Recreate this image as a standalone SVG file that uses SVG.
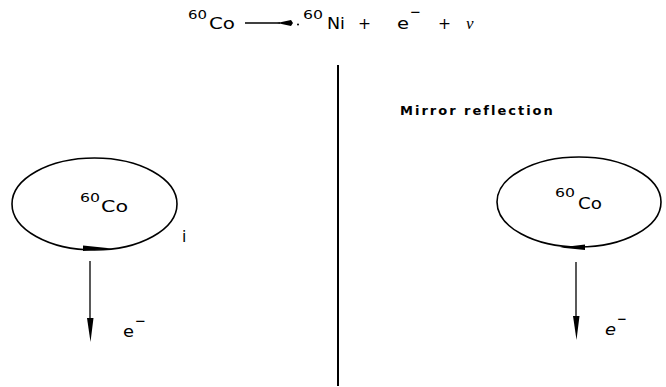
<svg xmlns="http://www.w3.org/2000/svg" width="666" height="387" viewBox="0 0 666 387">
<style>
text{font-family:"DejaVu Sans","Liberation Sans",sans-serif;fill:#000}
.m{font-size:15.5px}
.s{font-size:12px}
.loop{fill:none;stroke:#000;stroke-width:1.6}
.ln{stroke:#000;stroke-width:1.3;fill:none}
</style>
<rect width="666" height="387" fill="#fff"/>
<g id="equation">
<text class="s" x="188" y="19" textLength="19" lengthAdjust="spacingAndGlyphs">60</text>
<text class="m" x="209" y="29" textLength="26" lengthAdjust="spacingAndGlyphs">Co</text>
<text class="s" x="303" y="19" textLength="20" lengthAdjust="spacingAndGlyphs">60</text>
<text class="m" x="327" y="29" textLength="18" lengthAdjust="spacingAndGlyphs">Ni</text>
<text class="m" x="358" y="29">+</text>
<text class="m" x="397" y="29" textLength="12" lengthAdjust="spacingAndGlyphs">e</text>
<text class="m" x="410" y="17" textLength="11" lengthAdjust="spacingAndGlyphs">−</text>
<text class="m" x="438" y="29">+</text>
<text x="466" y="29" style="font-family:'Liberation Serif',serif;font-style:italic;font-size:17px">ν</text>
</g>
<g id="mirror">
<line x1="338" y1="65" x2="338" y2="386" stroke="#000" stroke-width="2"/>
<text x="400" y="115" style="font-size:13px;font-weight:bold;letter-spacing:2px">Mirror reflection</text>
</g>
<g id="left-nucleus">
<ellipse class="loop" cx="94.5" cy="204" rx="82.5" ry="46"/>
<text class="s" x="80" y="202" textLength="20" lengthAdjust="spacingAndGlyphs">60</text>
<text class="m" x="101" y="212" textLength="27" lengthAdjust="spacingAndGlyphs">Co</text>
<text class="m" x="182" y="242">i</text>
</g>
<g id="right-nucleus">
<ellipse class="loop" cx="579" cy="202" rx="82" ry="45"/>
<text class="s" x="555" y="197" textLength="20" lengthAdjust="spacingAndGlyphs">60</text>
<text class="m" x="578" y="209" textLength="24" lengthAdjust="spacingAndGlyphs">Co</text>
</g>
<g id="connectors">
<line class="ln" x1="245" y1="23" x2="280" y2="23"/>
<polygon points="277,23 291,20 293,23 291,26"/>
<circle cx="298" cy="24.5" r="1"/>
<polygon points="83,245.5 83,251 112,248.6"/>
<polygon points="585,244.5 585,250 560,247.6"/>
<line class="ln" x1="90" y1="261" x2="90" y2="322"/>
<polygon points="87,318 93.5,318 90.5,342"/>
<line class="ln" x1="576" y1="262" x2="576" y2="320"/>
<polygon points="573,316 579.5,316 576.5,340"/>
</g>
<g id="labels">
<text class="m" x="123" y="337" textLength="11" lengthAdjust="spacingAndGlyphs">e</text>
<text class="m" x="135" y="326" textLength="11" lengthAdjust="spacingAndGlyphs">−</text>
<text class="m" x="605" y="335" style="font-style:italic" textLength="11" lengthAdjust="spacingAndGlyphs">e</text>
<text class="m" x="617" y="324" textLength="10" lengthAdjust="spacingAndGlyphs">−</text>
</g>
</svg>
